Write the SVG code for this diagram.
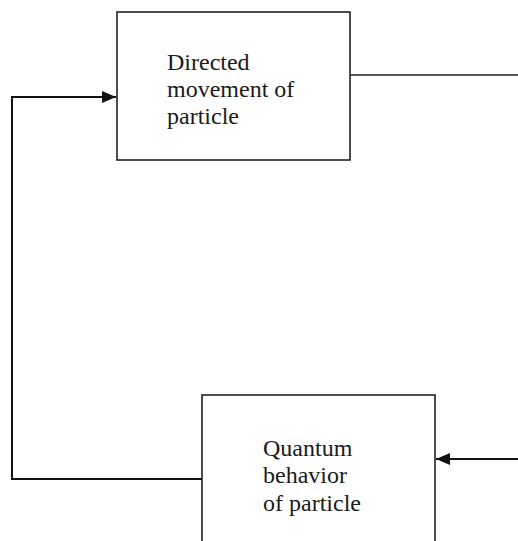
<svg xmlns="http://www.w3.org/2000/svg" width="518" height="541" viewBox="0 0 518 541">
<style>
.box{fill:#fff;stroke:#222;stroke-width:1.6}
.lbl{font-family:"Liberation Serif","Times New Roman",serif;font-size:24px;fill:#1a1a1a}
.con{fill:none;stroke:#222;stroke-width:1.6}
.arr{fill:none;stroke:#111;stroke-width:2}
</style>
<defs>
<marker id="ah" viewBox="0 0 14 12" refX="14" refY="6" markerWidth="14" markerHeight="12" markerUnits="userSpaceOnUse" orient="auto">
<path d="M0,0 L14,6 L0,12 Z" fill="#111"/>
</marker>
</defs>
<g id="connectors">
<path class="con" d="M350,75 H518"/>
<path class="arr" d="M202,479 H12 V97 H116" marker-end="url(#ah)"/>
<path class="arr" d="M518,459 H436" marker-end="url(#ah)"/>
</g>
<g id="node-directed">
<rect class="box" x="117" y="12" width="233" height="148"/>
<text class="lbl" x="167" y="70">Directed</text>
<text class="lbl" x="167" y="97">movement of</text>
<text class="lbl" x="167" y="124">particle</text>
</g>
<g id="node-quantum">
<rect class="box" x="202" y="395" width="233" height="160"/>
<text class="lbl" x="263" y="456">Quantum</text>
<text class="lbl" x="263" y="483">behavior</text>
<text class="lbl" x="263" y="511">of particle</text>
</g>
</svg>
